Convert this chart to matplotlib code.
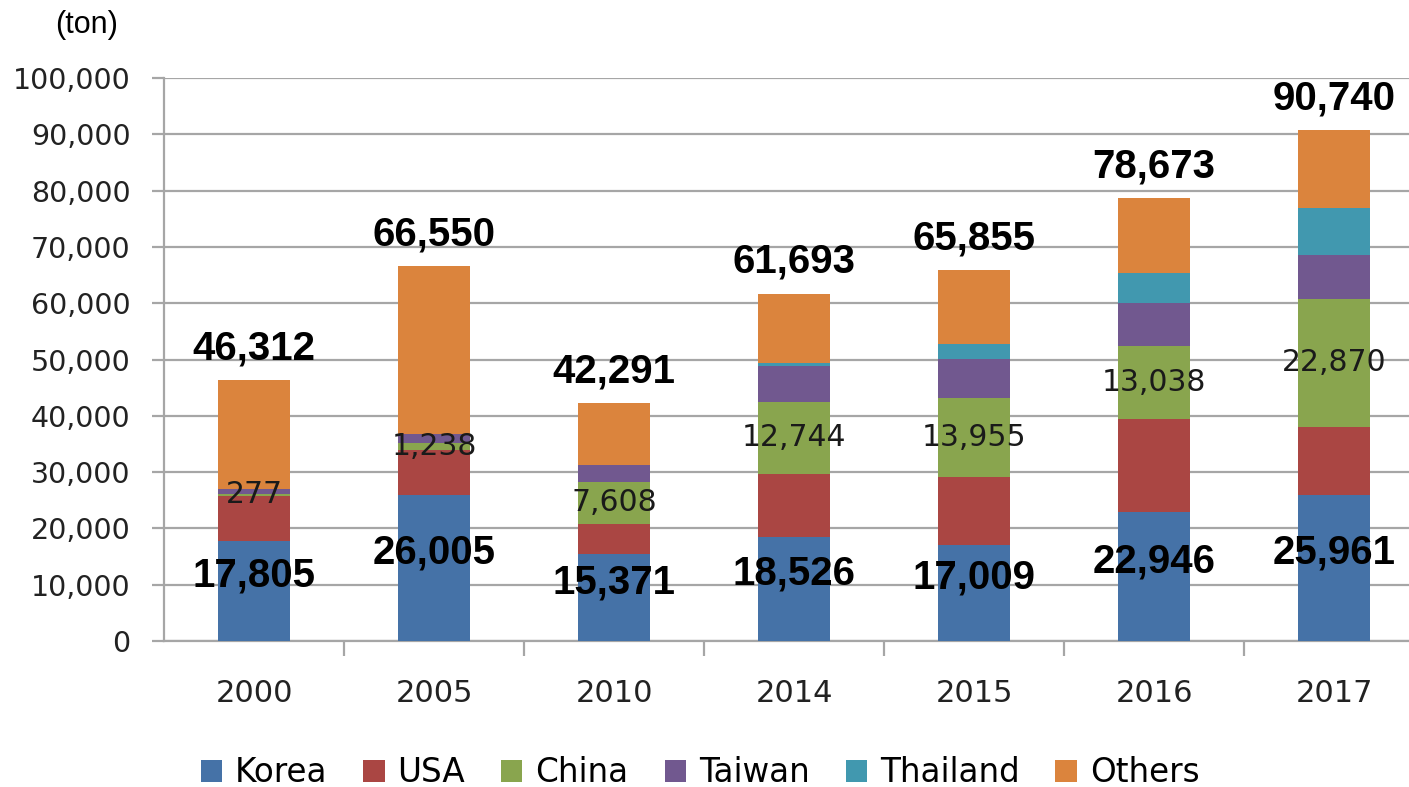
import matplotlib
matplotlib.use("Agg")
import matplotlib.pyplot as plt
import numpy as np

years = ["2000", "2005", "2010", "2014", "2015", "2016", "2017"]
korea = [17805, 26005, 15371, 18526, 17009, 22946, 25961]
usa = [8000, 8000, 5340, 11200, 12200, 16500, 12000]
china = [277, 1238, 7608, 12744, 13955, 13038, 22870]
taiwan = [1000, 1600, 2900, 6400, 7000, 7500, 7700]
thailand = [0, 0, 0, 500, 2600, 5400, 8400]
others = [19230, 29707, 11072, 12323, 13091, 13289, 13809]

series = [("Korea", korea, "#4572A7"), ("USA", usa, "#AA4643"),
          ("China", china, "#89A54E"), ("Taiwan", taiwan, "#71588F"),
          ("Thailand", thailand, "#4198AF"), ("Others", others, "#DB843D")]

plt.rcParams["font.family"] = ["DejaVu Sans"]
W, H = 1409, 787
fig = plt.figure(figsize=(W / 100, H / 100), dpi=100, facecolor="white")
ax = fig.add_axes([164 / W, 146 / H, 1260 / W, 563 / H])

x = np.arange(len(years))
bottom = np.zeros(len(years))
for name, vals, col in series:
    ax.bar(x, vals, 0.4, bottom=bottom, color=col, label=name, zorder=3)
    bottom += np.array(vals)

bold = dict(family="Liberation Sans", fontweight="bold", fontsize=29, color="black")
for i in x:
    ax.annotate(f"{int(bottom[i]):,}", (i, bottom[i]), xytext=(0, 15),
                textcoords="offset points", ha="center", va="baseline",
                annotation_clip=False, zorder=5, **bold)
    ax.annotate(f"{korea[i]:,}", (i, korea[i] / 2), xytext=(0, 11),
                textcoords="offset points", ha="center", va="center",
                zorder=5, **bold)
    ax.text(i, korea[i] + usa[i] + china[i] / 2, f"{china[i]:,}",
            ha="center", va="center", fontsize=21.5, color="#1a1a1a", zorder=5)

ax.set_xlim(-0.5, len(years) - 0.5)
ax.set_ylim(0, 100000)
ax.set_yticks(np.arange(0, 100001, 10000))
ax.set_yticklabels([f"{v:,}" for v in range(0, 100001, 10000)])
ax.yaxis.grid(True, color="#a6a6a6", lw=1.6, zorder=0)
ax.set_xticks(x)
ax.set_xticklabels(years)
ax.set_xticks(np.arange(0.5, len(years) - 1, 1), minor=True)
ax.tick_params(axis="x", which="major", length=0, pad=27, labelsize=22, labelcolor="#222222")
ax.tick_params(axis="x", which="minor", length=11, width=1.6, color="#a6a6a6")
ax.tick_params(axis="y", length=9, width=1.6, color="#a6a6a6", pad=15,
               labelsize=20.5, labelcolor="#222222")
for s in ["top", "right"]:
    ax.spines[s].set_visible(False)
for s in ["left", "bottom"]:
    ax.spines[s].set_color("#a6a6a6")
    ax.spines[s].set_linewidth(1.6)

fig.text(55 / W, 1 - 25 / H, "(ton)", family="Liberation Sans", fontsize=22,
         ha="left", va="center")

fig.legend(loc="center", bbox_to_anchor=(700 / W, 1 - 773 / H), ncol=6,
           frameon=False, fontsize=23.5, handlelength=0.65, handleheight=0.65,
           handletextpad=0.4, columnspacing=1.1)

fig.savefig("out.png", dpi=100, facecolor="white")
